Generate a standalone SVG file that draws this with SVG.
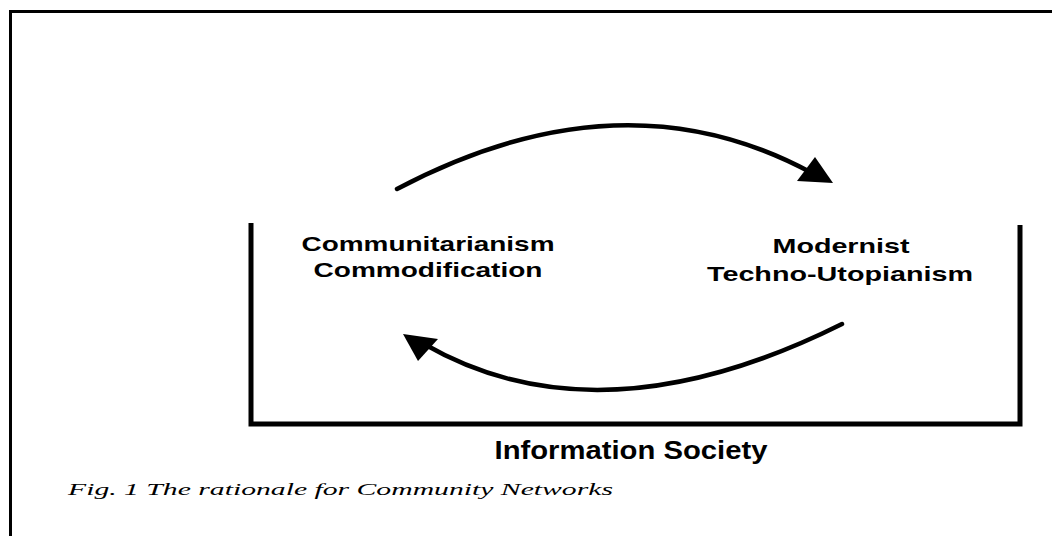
<svg xmlns="http://www.w3.org/2000/svg" width="1052" height="536" viewBox="0 0 1052 536">
  <style>
    .lbl { font-family: "Liberation Sans", Arial, sans-serif; font-weight: bold; fill: #000; text-anchor: middle; }
    .cap { font-family: "Liberation Serif", "Times New Roman", serif; font-style: italic; fill: #000; }
    .arc { fill: none; stroke: #000; stroke-width: 4.5; stroke-linecap: round; }
  </style>
  <defs>
    <marker id="ah" markerWidth="10" markerHeight="10" refX="0" refY="0" orient="auto" markerUnits="userSpaceOnUse" viewBox="-30 -15 40 30" overflow="visible">
      <path d="M8,0 L-22,-12 L-22,12 Z" fill="#000"/>
    </marker>
  </defs>
  <rect width="1052" height="536" fill="#fff"/>
  <g id="frame">
    <path d="M10.5,536 V11.5 H1052" fill="none" stroke="#000" stroke-width="3"/>
  </g>
  <g id="information-society">
    <path d="M251,223 V424 H1020 V225" fill="none" stroke="#000" stroke-width="5"/>
    <text class="lbl" x="631" y="459" font-size="25" textLength="273" lengthAdjust="spacingAndGlyphs">Information Society</text>
  </g>
  <g id="communitarianism">
    <text class="lbl" x="428" y="251" font-size="21" textLength="253" lengthAdjust="spacingAndGlyphs">Communitarianism</text>
    <text class="lbl" x="428" y="277" font-size="21" textLength="229" lengthAdjust="spacingAndGlyphs">Commodification</text>
  </g>
  <g id="modernist">
    <text class="lbl" x="841" y="253" font-size="21" textLength="137" lengthAdjust="spacingAndGlyphs">Modernist</text>
    <text class="lbl" x="840" y="281" font-size="21" textLength="266" lengthAdjust="spacingAndGlyphs">Techno-Utopianism</text>
  </g>
  <g id="connectors">
    <path class="arc" d="M397,189 Q622,70 812,173"/>
    <polygon points="833,183 797,181 815,157" fill="#000"/>
    <path class="arc" d="M842,324 Q599,445 424,344"/>
    <polygon points="403,334 438,339 418,361" fill="#000"/>
  </g>
  <g id="caption">
    <text class="cap" x="68" y="495" font-size="17" textLength="545" lengthAdjust="spacingAndGlyphs">Fig. 1 The rationale for Community Networks</text>
  </g>
</svg>
